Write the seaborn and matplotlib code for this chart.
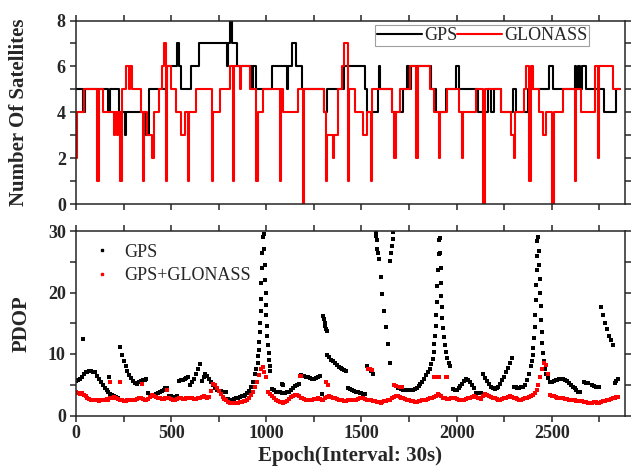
import numpy as np
import pandas as pd
import seaborn as sns
import matplotlib.pyplot as plt
from matplotlib.ticker import MultipleLocator
from matplotlib.lines import Line2D

nan = np.nan

# Number of satellites: epoch where a new count starts, and the count
gps_epoch = [0, 38, 46, 170, 178, 228, 258, 264, 368, 382, 480, 528, 540, 552, 604, 648,
             792, 800, 810, 820, 846, 924, 930, 946, 1030, 1108, 1114, 1134, 1155, 1187,
             1305, 1318, 1410, 1520, 1527, 1586, 1590, 1598, 1660, 1720, 1740, 1748, 1758,
             1865, 1891, 1944, 1997, 2012, 2111, 2164, 2180, 2199, 2234, 2295, 2312, 2374,
             2488, 2506, 2620, 2630, 2640, 2650, 2660, 2681, 2777, 2838, 2860]
gps_nsat = [5, 4, 5, 4, 5, 4, 3, 4, 3, 5, 6, 7, 6, 5, 6, 7,
            6, 7, 8, 7, 6, 5, 6, 5, 6, 5, 6, 7, 6, 5,
            4, 5, 6, 5, 4, 5, 6, 5, 4, 5, 6, 5, 6,
            5, 4, 5, 6, 5, 4, 5, 4, 5, 4, 5, 4, 5,
            6, 5, 6, 5, 6, 5, 6, 5, 4, 5, 5]

glo_epoch = [0, 6, 42, 112, 119, 139, 198, 204, 215, 221, 233, 240, 244, 261, 276, 281,
             296, 340, 352, 358, 374, 400, 410, 436, 454, 460, 472, 478, 497, 524, 550,
             575, 590, 596, 628, 713, 719, 758, 811, 826, 832, 860, 866, 916, 948, 954,
             985, 1071, 1077, 1090, 1169, 1194, 1200, 1301, 1312, 1318, 1350, 1357, 1375,
             1400, 1410, 1428, 1435, 1466, 1510, 1527, 1550, 1557, 1658, 1673, 1680, 1702,
             1755, 1788, 1795, 1860, 1880, 1906, 1913, 1948, 2015, 2028, 2035, 2103, 2140,
             2148, 2234, 2287, 2302, 2309, 2356, 2365, 2382, 2389, 2400, 2435, 2452, 2470,
             2503, 2510, 2558, 2620, 2627, 2655, 2725, 2742, 2749, 2821, 2860]
glo_nsat = [2, 4, 5, 1, 5, 4, 3, 4, 3, 4, 1, 4, 5, 6, 5, 6,
            5, 4, 1, 4, 3, 2, 4, 5, 6, 7, 1, 6, 5, 4, 3,
            4, 1, 4, 5, 1, 4, 5, 6, 1, 6, 5, 6, 5, 1, 4,
            5, 1, 5, 4, 5, 0, 5, 4, 1, 3, 2, 3, 5,
            6, 7, 1, 5, 4, 3, 4, 1, 5, 4, 2, 4, 5,
            6, 2, 6, 5, 4, 2, 4, 5, 4, 2, 4, 5, 0,
            5, 4, 3, 2, 4, 5, 6, 1, 6, 5, 4, 3, 4,
            0, 4, 5, 1, 5, 4, 6, 2, 6, 5, 5]

# PDOP read every 10 epochs (nan = gap)
pdop_epoch = list(range(0, 2880, 10))
pdop_gps = [
    5.6, 5.8, 6.0, 6.3, 6.8, 7.0, 7.1, 7.2, 7.2, 7.1,
    7.0, 6.5, 6.0, 5.5, 5.0, 4.5, 4.1, 3.8, 3.5, 3.3,
    3.2, 3.0, 2.9, 11.2, 9.9, 8.9, 8.0, 7.3, 6.6, 6.1,
    5.6, 5.3, 5.2, 5.4, 5.6, 5.7, 5.8, 5.9, 3.6, 3.3,
    3.2, 3.3, 3.5, 3.7, 3.9, 4.0, 4.2, 4.4, 4.5, 3.2,
    3.1, 3.0, 3.0, 3.1, 5.6, 5.7, 5.8, 6.0, 6.1, 6.2,
    5.0, 5.4, 6.0, 6.8, 7.6, 8.3, 5.6, 6.2, 6.7, 6.5,
    6.0, 5.4, 4.9, 4.5, 4.2, 4.0, 4.0, 3.9, 3.9, 3.8,
    2.7, 2.6, 2.6, 2.7, 2.8, 2.9, 3.0, 3.1, 3.2, 3.3,
    3.6, 4.0, 4.6, 5.5, nan, nan, nan, nan, nan, nan,
    nan, nan, nan, 4.3, 4.1, 3.9, 3.8, 3.8, 3.7, 3.7,
    3.7, 3.8, 3.9, 4.2, 4.5, 4.8, 5.0, 5.2, 6.6, 6.5,
    6.4, 6.3, 6.2, 6.1, 6.0, 6.0, 6.1, 6.3, 6.5, 3.5,
    nan, nan, 9.8, 9.5, 9.1, 8.8, 8.5, 8.2, 7.9, 7.7,
    7.5, 7.4, 7.3, 4.5, 4.3, 4.1, 4.0, 3.9, 3.8, 3.7,
    3.6, 3.5, 3.5, 8.0, 7.6, 7.2, 6.8, nan, 28.5, 25.5,
    22.5, 19.8, 17.0, 14.4, 11.6, 8.6, nan, nan, nan, 4.4,
    4.4, 4.3, 4.2, 4.1, 4.1, 4.1, 4.2, 4.2, 4.3, 4.5,
    4.8, 5.1, 5.5, 6.0, 6.6, 7.0, nan, nan, nan, nan,
    nan, nan, nan, nan, nan, nan, nan, nan, 4.3, 4.2,
    4.2, 4.4, 4.8, 5.2, 5.6, 5.9, 5.8, 5.4, 4.9, 4.5,
    3.7, 3.6, 3.6, 3.6, 6.7, 6.1, 5.6, 5.1, 4.7, 4.4,
    4.3, 4.4, 4.7, 5.1, 5.7, 6.3, 7.0, 7.8, 8.6, 9.4,
    4.6, 4.6, 4.5, 4.5, 4.6, 4.7, 4.9, 5.8, 6.8, 8.0,
    nan, nan, nan, nan, nan, nan, nan, nan, nan, 5.4,
    5.5, 5.6, 5.7, 5.8, 5.9, 5.9, 5.9, 5.8, 5.6, 5.3,
    5.0, 4.7, 4.4, 4.1, 3.9, 3.8, nan, 5.4, 5.3, 5.3,
    nan, 4.9, 4.8, 4.7, 4.6, 4.6, 17.6, 16.3, 15.1, 14.0,
    13.0, 12.2, 11.4, 5.3, 5.6, 5.9, nan, nan,
]
pdop_gpsglo = [
    3.8, 3.6, 3.5, 3.6, 3.4, 3.2, 2.9, 2.7, 2.6, 2.6,
    2.5, 2.5, 2.4, 2.5, 2.5, 2.6, 2.7, 2.6, 2.8, 2.9,
    3.0, 2.9, 2.7, 2.6, 2.5, 2.4, 2.4, 2.5, 2.6, 2.5,
    2.5, 2.6, 2.7, 2.8, 2.8, 2.7, 2.6, 2.6, 2.7, 3.0,
    3.3, 3.2, 3.0, 2.9, 2.8, 2.7, 2.7, 2.8, 2.9, 2.8,
    2.7, 2.6, 2.6, 2.7, 2.8, 2.8, 2.7, 2.7, 2.8, 2.9,
    2.9, 2.8, 2.7, 2.7, 2.8, 2.9, 3.0, 3.1, 3.0, 2.9,
    3.0, 4.0, 5.2, 5.0, 4.5, 4.0, 3.5, 3.0, 2.7, 2.5,
    2.2, 2.1, 2.0, 2.0, 2.1, 2.1, 2.2, 2.2, 2.3, 2.4,
    2.6, 2.9, 3.3, 3.9, 4.6, 5.5, 6.6, 7.6, 7.9, 7.0,
    6.2, 3.8, 3.5, 3.2, 2.8, 2.5, 2.3, 2.2, 2.2, 2.1,
    2.2, 2.4, 2.7, 3.0, 3.2, 3.3, 3.3, 3.1, 2.9, 2.8,
    2.7, 2.6, 2.5, 2.5, 2.6, 2.7, 2.7, 2.8, 2.7, 2.6,
    2.6, 2.8, 3.0, 3.1, 3.0, 2.9, 2.8, 2.7, 2.6, 2.5,
    2.5, 2.4, 2.4, 2.5, 2.6, 2.6, 2.5, 2.6, 2.7, 2.8,
    2.9, 2.8, 2.7, 2.6, 2.6, 2.5, 2.4, 2.3, 2.2, 2.2,
    2.1, 2.2, 2.3, 2.4, 2.5, 2.6, 2.8, 3.0, 3.2, 3.1,
    3.0, 2.9, 2.8, 2.7, 2.6, 2.5, 2.4, 2.3, 2.2, 2.2,
    2.3, 2.4, 2.5, 2.5, 2.6, 2.7, 2.8, 2.9, 3.0, 3.2,
    3.5, 3.3, 3.1, 2.9, 2.8, 2.7, 2.7, 2.8, 2.9, 2.8,
    2.7, 2.6, 2.6, 2.5, 2.6, 2.7, 2.8, 2.9, 3.0, 3.1,
    3.0, 2.9, 2.8, 2.7, 3.2, 3.5, 3.4, 3.2, 3.0, 2.9,
    2.8, 2.7, 2.6, 2.6, 2.7, 2.8, 2.9, 3.0, 3.1, 3.0,
    2.9, 2.8, 2.7, 2.6, 2.6, 2.7, 2.8, 2.9, 3.0, 3.1,
    3.3, 3.6, 4.2, 5.0, 6.2, 7.6, 8.6, 8.2, 6.8, 3.4,
    3.2, 3.1, 3.0, 2.9, 2.9, 2.8, 2.8, 2.7, 2.7, 2.6,
    2.6, 2.5, 2.5, 2.4, 2.4, 2.3, 2.3, 2.2, 2.2, 2.1,
    2.1, 2.1, 2.2, 2.2, 2.1, 2.1, 2.2, 2.3, 2.4, 2.5,
    2.6, 2.7, 2.8, 2.9, 3.0, 3.0, nan, nan,
]

# extra GPS points: isolated epochs and the fast parts of the PDOP spikes
gps_extra_epoch = [38, 172, 1080, 1086,
                   940, 948, 954, 958, 961, 964, 966, 968, 970, 972, 974, 976, 978, 980,
                   988, 990, 992, 994, 996, 998, 1000, 1003, 1006, 1009, 1012, 1015, 1018, 1021,
                   1298, 1302, 1306, 1310, 1314, 1318,
                   1576, 1578, 1583, 1586,
                   1652, 1656, 1660, 1664, 1668,
                   1860, 1868, 1874, 1879, 1883, 1887, 1890, 1893, 1896, 1899, 1902, 1905, 1908,
                   1912, 1914, 1916, 1918, 1920, 1922, 1925, 1928, 1932, 1937, 1943, 1950, 1958, 1966,
                   2396, 2400, 2404, 2408, 2411, 2414, 2417, 2419, 2421, 2423, 2425,
                   2430, 2432, 2434, 2436, 2438, 2441, 2444, 2447, 2451, 2455, 2460, 2466, 2472, 2478]
gps_extra_pdop = [12.4, 6.3, 5.2, 4.9,
                  6.8, 7.6, 8.6, 9.6, 10.7, 12.0, 13.5, 15.0, 17.0, 19.0, 21.5, 24.0, 26.5, 29.0,
                  29.5, 27.0, 24.5, 22.0, 20.0, 18.0, 16.3, 14.6, 13.0, 11.5, 10.2, 9.0, 8.0, 7.2,
                  16.2, 15.7, 15.1, 14.6, 14.1, 13.7,
                  29.8, 29.2, 27.0, 26.4,
                  25.2, 26.4, 27.5, 28.7, 29.8,
                  7.5, 8.3, 9.2, 10.3, 11.6, 13.0, 14.6, 16.4, 18.5, 21.0, 23.6, 26.3, 28.6,
                  28.8, 26.5, 24.0, 21.6, 19.5, 17.6, 15.8, 14.3, 12.8, 11.5, 10.3, 9.3, 8.5, 8.0,
                  8.8, 9.8, 11.0, 12.6, 14.4, 16.4, 18.8, 21.2, 23.6, 26.0, 28.4,
                  29.0, 26.8, 24.5, 22.2, 20.0, 17.8, 15.6, 13.6, 11.8, 10.2, 8.8, 7.6, 6.7, 6.1]
gpsglo_extra_epoch = [180, 231, 348, 476, 1175, 1182, 1315, 1322, 1535, 1545, 1555,
                      1670, 1680, 1700, 1715, 1880, 1890, 1910, 1945, 1952]
gpsglo_extra_pdop = [5.5, 5.5, 5.2, 4.2, 6.5, 6.4, 5.4, 5.0, 7.5, 7.6, 7.4,
                     5.0, 4.8, 4.6, 4.7, 6.2, 6.2, 6.3, 6.3, 6.2]

sns.set_style("ticks")
plt.rcParams["font.family"] = ["Liberation Serif", "DejaVu Serif"]
plt.rcParams["axes.linewidth"] = 1.1

fig = plt.figure(figsize=(6.35, 4.76), dpi=100)
ax1 = fig.add_axes([75.5 / 635, 1 - 204.3 / 476, 549.5 / 635, 183.8 / 476])
ax2 = fig.add_axes([75.5 / 635, 1 - 415.5 / 476, 549.5 / 635, 184.5 / 476])

# top panel: satellite counts as steps
sns.lineplot(x=gps_epoch, y=gps_nsat, ax=ax1, color="black", lw=1.5,
             drawstyle="steps-post", estimator=None)
sns.lineplot(x=glo_epoch, y=glo_nsat, ax=ax1, color="red", lw=1.5,
             drawstyle="steps-post", estimator=None)

# bottom panel: PDOP dots
gps_df = pd.DataFrame({"epoch": pdop_epoch + gps_extra_epoch,
                       "pdop": pdop_gps + gps_extra_pdop}).dropna()
glo_df = pd.DataFrame({"epoch": pdop_epoch + gpsglo_extra_epoch,
                       "pdop": pdop_gpsglo + gpsglo_extra_pdop}).dropna()
sns.scatterplot(data=gps_df, x="epoch", y="pdop", ax=ax2, color="black",
                marker="s", s=5, linewidth=0)
sns.scatterplot(data=glo_df, x="epoch", y="pdop", ax=ax2, color="red",
                marker="s", s=5, linewidth=0)

for ax in (ax1, ax2):
    ax.set_xlim(-3, 2885)
    ax.xaxis.set_major_locator(MultipleLocator(500))
    ax.xaxis.set_minor_locator(MultipleLocator(250))
    ax.tick_params(which="both", direction="out", top=True, right=True,
                   width=1.1, length=4, labelsize=13, pad=3)

ax1.set_ylim(0, 8)
ax1.yaxis.set_major_locator(MultipleLocator(2))
ax1.yaxis.set_minor_locator(MultipleLocator(1))
ax1.tick_params(labelbottom=False)
ax1.set_xlabel("")
ax1.set_ylabel("Number Of Satellites", fontsize=15, fontweight="bold")
ax1.yaxis.set_label_coords(-0.085, 0.5)

ax2.set_ylim(0, 30)
ax2.yaxis.set_major_locator(MultipleLocator(10))
ax2.yaxis.set_minor_locator(MultipleLocator(5))
ax2.set_xlabel("Epoch(Interval: 30s)", fontsize=15, fontweight="bold", labelpad=3)
ax2.set_ylabel("PDOP", fontsize=15, fontweight="bold")
ax2.yaxis.set_label_coords(-0.08, 0.5)
for lab in ax2.get_xticklabels() + ax2.get_yticklabels() + ax1.get_yticklabels():
    lab.set_fontweight("bold")

h1 = [Line2D([], [], color="black", lw=1.5), Line2D([], [], color="red", lw=1.5)]
leg1 = ax1.legend(h1, ["GPS", "GLONASS"], ncol=2, loc="upper right",
                  bbox_to_anchor=(0.935, 0.975), fontsize=13, frameon=True,
                  fancybox=False, edgecolor="#888888", handlelength=2.5,
                  handletextpad=0.1, columnspacing=0.0, borderpad=0.1,
                  borderaxespad=0)
leg1.get_frame().set_linewidth(0.8)

h2 = [Line2D([], [], color="black", marker="s", ms=2, ls=""),
      Line2D([], [], color="red", marker="s", ms=2, ls="")]
ax2.legend(h2, ["GPS", "GPS+GLONASS"], loc="upper left", bbox_to_anchor=(0.0, 1.0),
           fontsize=13, frameon=False, handlelength=1.5, handletextpad=0.5,
           labelspacing=0.35, borderaxespad=0.3)

fig.savefig("out.png", dpi=100)
